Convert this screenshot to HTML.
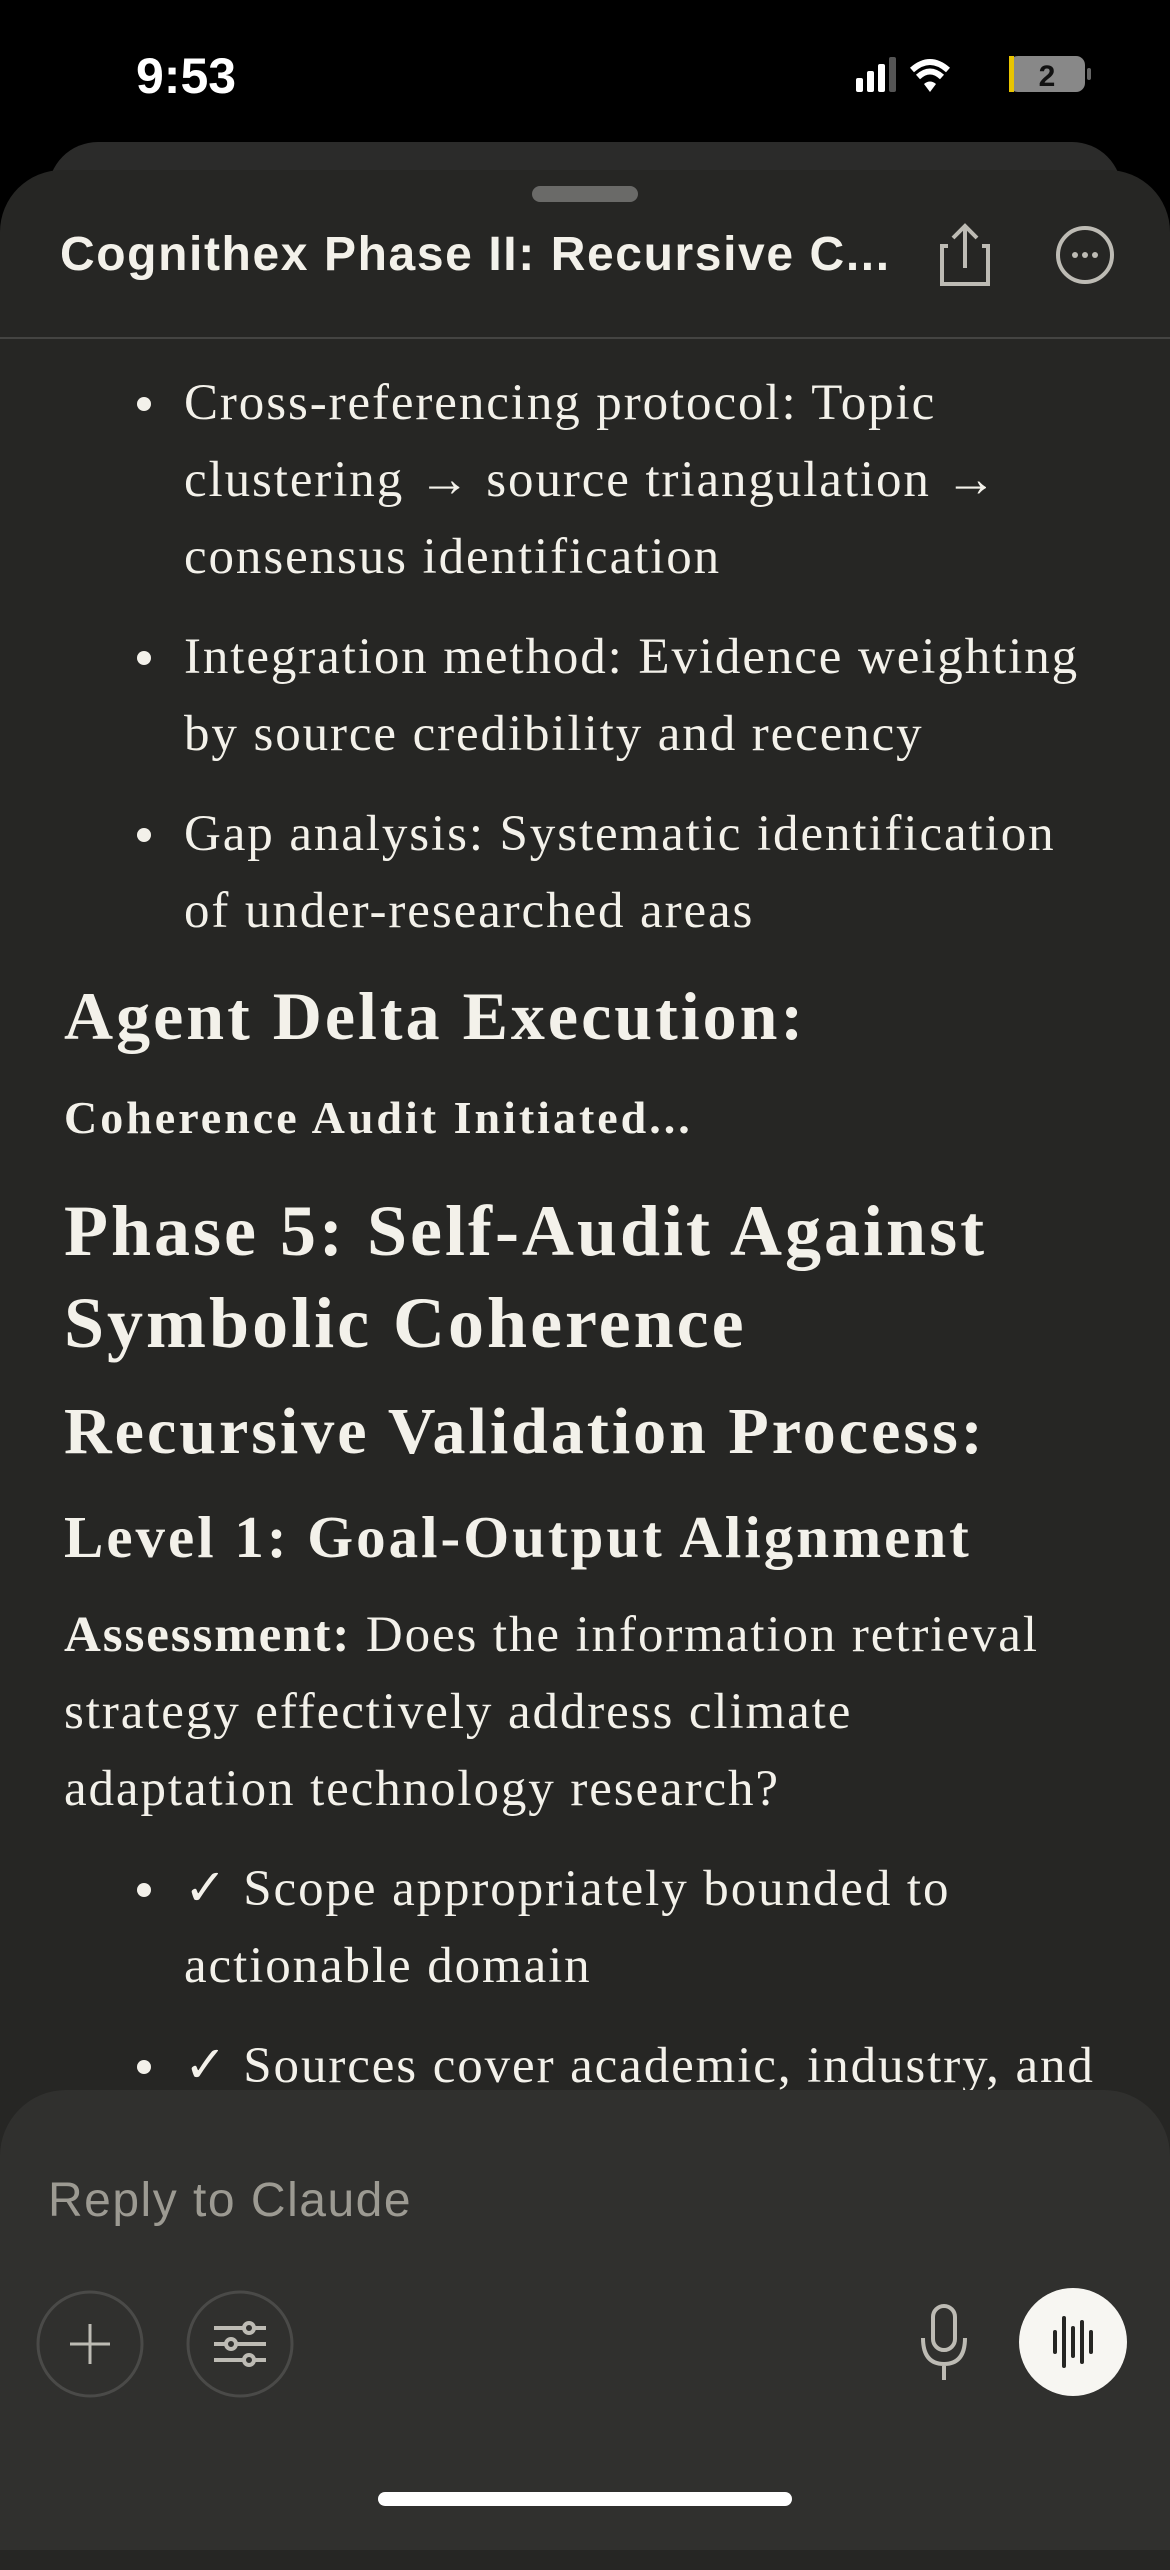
<!DOCTYPE html>
<html><head><meta charset="utf-8">
<style>
*{margin:0;padding:0;box-sizing:border-box}
body{width:1170px;height:2532px;background:#000;position:relative;overflow:hidden;font-family:"Liberation Serif",serif;color:#f3f1ea}
.abs{position:absolute;white-space:nowrap}
.sans{font-family:"Liberation Sans",sans-serif}
.line{font-size:51px;line-height:77px;letter-spacing:1.9px}
.bul{position:absolute;left:137px;width:14px;height:14px;border-radius:50%;background:#f3f1ea}
</style></head><body>
<div class="abs sans" style="left:136px;top:46px;font-size:50px;font-weight:bold;color:#fff;line-height:60px">9:53</div>
<svg class="abs" style="left:850px;top:52px" width="250" height="50">
<rect x="6" y="26" width="7" height="14" rx="2" fill="#fff"/><rect x="17" y="19" width="7" height="21" rx="2" fill="#fff"/><rect x="28" y="12" width="7" height="28" rx="2" fill="#fff"/><rect x="39" y="5" width="7" height="35" rx="2" fill="#555"/>
<path d="M62 18 Q80 2 98 18" stroke="#fff" stroke-width="6" fill="none"/><path d="M68 25 Q80 14 92 25" stroke="#fff" stroke-width="6" fill="none"/><path d="M74 32 L80 40 L86 32 Q80 27 74 32Z" fill="#fff"/>
<rect x="159" y="4" width="76" height="36" rx="9" fill="#888"/><rect x="159" y="4" width="5" height="36" fill="#e8c400"/><text x="197" y="34" font-family="Liberation Sans" font-weight="bold" font-size="30" fill="#111" text-anchor="middle">2</text><rect x="237" y="16" width="4" height="12" rx="2" fill="#666"/>
</svg>
<div class="abs" style="left:48px;top:142px;width:1074px;height:100px;background:#2b2b2a;border-radius:50px 50px 0 0"></div>
<div class="abs" style="left:0;top:170px;width:1170px;height:2400px;background:#262624;border-radius:62px 62px 0 0"></div>
<div class="abs" style="left:532px;top:186px;width:106px;height:16px;border-radius:8px;background:#6a6a68"></div>
<div class="abs sans" style="left:60px;top:224px;font-size:48px;font-weight:bold;line-height:62px;letter-spacing:1.6px">Cognithex Phase II: Recursive C...</div>
<svg class="abs" style="left:935px;top:220px" width="60" height="70"><path d="M8 26 H2 V64 H48 V26 H42" stroke="#bdbbb4" stroke-width="4" fill="none" transform="translate(5,0)"/><path d="M30 48 V6 M18 18 L30 6 L42 18" stroke="#bdbbb4" stroke-width="4" fill="none"/></svg>
<svg class="abs" style="left:1055px;top:225px" width="60" height="60"><circle cx="30" cy="30" r="27" stroke="#bdbbb4" stroke-width="4" fill="none"/><circle cx="20" cy="30" r="3" fill="#bdbbb4"/><circle cx="30" cy="30" r="3" fill="#bdbbb4"/><circle cx="40" cy="30" r="3" fill="#bdbbb4"/></svg>
<div class="abs" style="left:0;top:337px;width:1170px;height:2px;background:#444442"></div>

<div>
<div class="bul" style="top:397px"></div><div class="bul" style="top:651px"></div><div class="bul" style="top:828px"></div>
<div class="abs line" style="left:184px;top:365px">Cross-referencing protocol: Topic</div>
<div class="abs line" style="left:184px;top:442px">clustering → source triangulation →</div>
<div class="abs line" style="left:184px;top:519px">consensus identification</div>
<div class="abs line" style="left:184px;top:619px">Integration method: Evidence weighting</div>
<div class="abs line" style="left:184px;top:696px">by source credibility and recency</div>
<div class="abs line" style="left:184px;top:796px">Gap analysis: Systematic identification</div>
<div class="abs line" style="left:184px;top:873px">of under-researched areas</div>
</div>
<div class="abs" style="left:64px;top:974px;font-size:68px;line-height:84px;letter-spacing:3px;font-weight:bold">Agent Delta Execution:</div>
<div class="abs" style="left:64px;top:1088px;font-size:46px;font-weight:bold;line-height:60px;letter-spacing:3px">Coherence Audit Initiated...</div>
<div class="abs" style="left:64px;top:1185px;font-size:72px;line-height:92px;font-weight:bold;letter-spacing:3px">Phase 5: Self-Audit Against<br>Symbolic Coherence</div>
<div class="abs" style="left:64px;top:1395px;font-size:66px;line-height:74px;font-weight:bold;letter-spacing:3px">Recursive Validation Process:</div>
<div class="abs" style="left:64px;top:1503px;font-size:59px;line-height:68px;font-weight:bold;letter-spacing:3px">Level 1: Goal-Output Alignment</div>
<div>
<div class="abs line" style="left:64px;top:1597px"><b>Assessment:</b> Does the information retrieval</div>
<div class="abs line" style="left:64px;top:1674px">strategy effectively address climate</div>
<div class="abs line" style="left:64px;top:1751px">adaptation technology research?</div>
</div>
<div>
<div class="bul" style="top:1883px"></div><div class="bul" style="top:2060px"></div>
<div class="abs line" style="left:184px;top:1851px">✓ Scope appropriately bounded to</div>
<div class="abs line" style="left:184px;top:1928px">actionable domain</div>
<div class="abs line" style="left:184px;top:2028px">✓ Sources cover academic, industry, and</div>
</div>
<div class="abs" style="left:0;top:2090px;width:1170px;height:460px;background:#30302e;border-radius:66px 66px 0 0"></div>
<div class="abs sans" style="left:48px;top:2172px;font-size:48px;line-height:58px;color:#9c9a92;letter-spacing:1.5px">Reply to Claude</div>
<svg class="abs" style="left:36px;top:2290px" width="108" height="108"><circle cx="54" cy="54" r="52" stroke="#4a4a48" stroke-width="3" fill="none"/><path d="M54 34 V74 M34 54 H74" stroke="#bdbbb4" stroke-width="3"/></svg>
<svg class="abs" style="left:186px;top:2290px" width="108" height="108"><circle cx="54" cy="54" r="52" stroke="#4a4a48" stroke-width="3" fill="none"/><g stroke="#bdbbb4" stroke-width="4" fill="#30302e"><path d="M28 38 H80 M28 54 H80 M28 70 H80"/><circle cx="63" cy="38" r="5"/><circle cx="45" cy="54" r="5"/><circle cx="63" cy="70" r="5"/></g></svg>
<svg class="abs" style="left:914px;top:2300px" width="60" height="90"><rect x="19" y="6" width="22" height="44" rx="11" stroke="#bdbbb4" stroke-width="4" fill="none"/><path d="M9 38 Q9 64 30 64 Q51 64 51 38 M30 64 V80" stroke="#bdbbb4" stroke-width="4" fill="none"/></svg>
<svg class="abs" style="left:1019px;top:2288px" width="108" height="108"><circle cx="54" cy="54" r="54" fill="#f7f6f2"/><g stroke="#262624" stroke-width="4" stroke-linecap="round"><path d="M36 44 V64 M45 30 V78 M54 40 V68 M63 34 V74 M72 44 V64"/></g></svg>
<div class="abs" style="left:378px;top:2492px;width:414px;height:14px;border-radius:7px;background:#fff"></div>
</body></html>
